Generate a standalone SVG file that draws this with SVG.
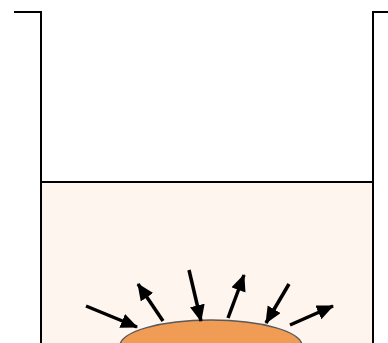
<svg xmlns="http://www.w3.org/2000/svg" width="388" height="343" viewBox="0 0 388 343">
<defs>
<style>
.wall{fill:none;stroke:#000;stroke-width:2}
.arr{stroke:#000;stroke-width:3.5;fill:none;marker-end:url(#ah)}
</style>
<marker id="ah" markerUnits="userSpaceOnUse" markerWidth="18" markerHeight="16" refX="16" refY="7.5" orient="auto" viewBox="0 0 18 16">
<path d="M0,0 L17,7.5 L0,15 Z" fill="#000"/>
</marker>
</defs>
<rect id="liquid" x="41" y="182" width="332" height="170" fill="#fdf5ee"/>
<g id="container">
<path class="wall" d="M14,12 H41 V343"/>
<path class="wall" d="M388,12 H373 V343"/>
<line class="wall" x1="41" y1="182" x2="373" y2="182"/>
</g>
<g id="particle">
<ellipse cx="211" cy="346" rx="91" ry="26" fill="#f09c55" stroke="#5a5a5a" stroke-width="1.5"/>
</g>
<g id="connectors">
<line class="arr" x1="86" y1="306" x2="137" y2="327"/>
<line class="arr" x1="163" y1="321" x2="138" y2="284"/>
<line class="arr" x1="189" y1="270" x2="201" y2="321"/>
<line class="arr" x1="228" y1="318" x2="244" y2="275"/>
<line class="arr" x1="289" y1="284" x2="266" y2="323"/>
<line class="arr" x1="290" y1="325" x2="333" y2="306"/>
</g>
</svg>
